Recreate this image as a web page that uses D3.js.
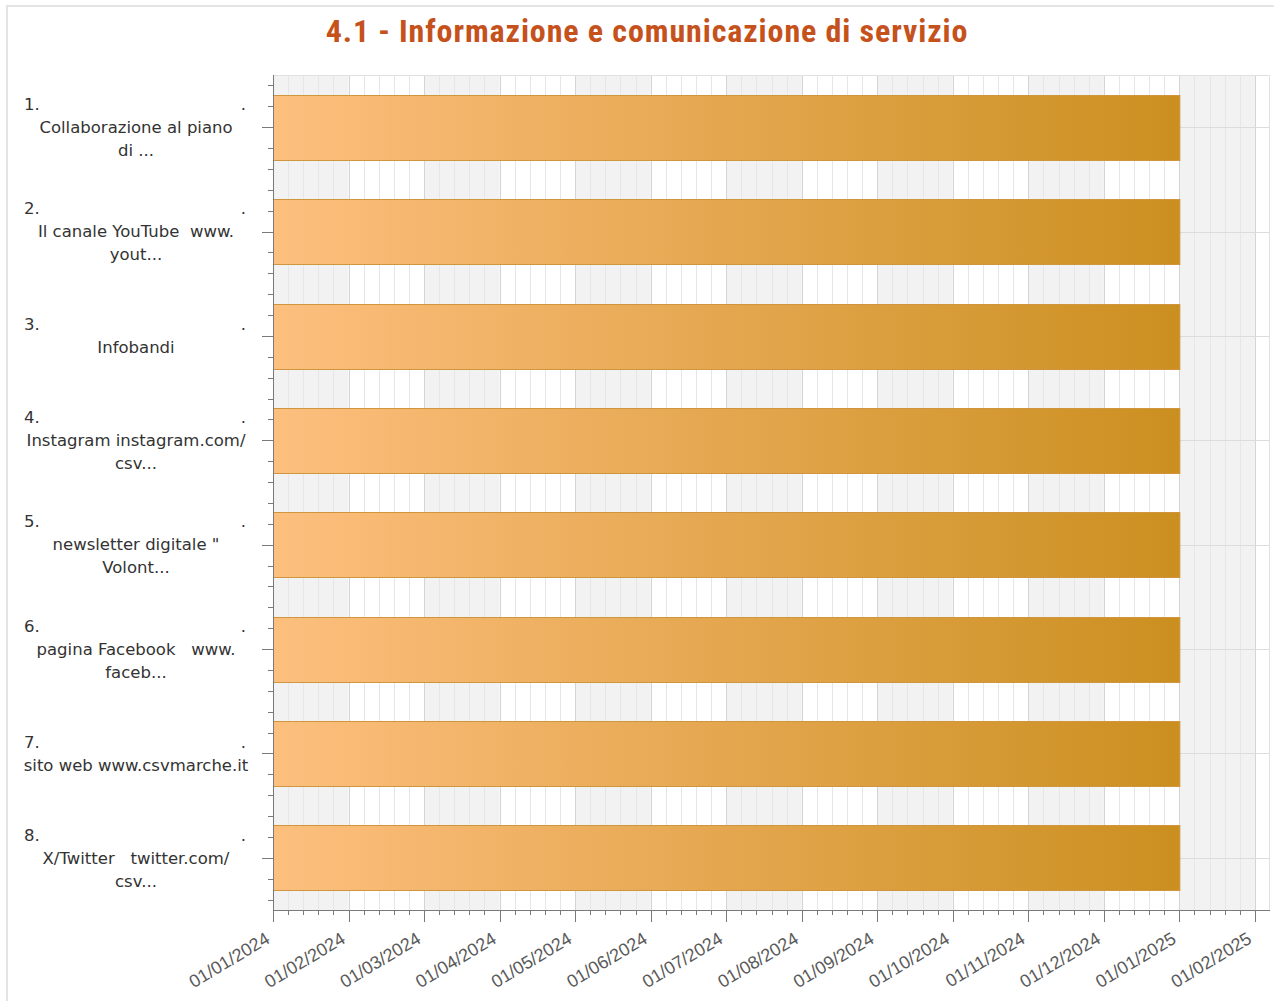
<!DOCTYPE html>
<html>
<head>
<meta charset="utf-8">
<script src="https://cdn.jsdelivr.net/npm/d3@7.9.0/dist/d3.min.js"></script>
<style>
  body { margin: 0; background: #fff; }
  svg { display: block; }
</style>
</head>
<body>
<svg id="chart" width="1274" height="1001"></svg>
<script>
// ---------- Data ----------
const chartTitle = "4.1 - Informazione e comunicazione di servizio";
const numbers = ["1.", "2.", "3.", "4.", "5.", "6.", "7.", "8."];
const categories = [
  ["Collaborazione al piano", "di ..."],
  ["Il canale YouTube  www.", "yout..."],
  ["Infobandi"],
  ["Instagram instagram.com/", "csv..."],
  ["newsletter digitale \"", "Volont..."],
  ["pagina Facebook   www.", "faceb..."],
  ["sito web www.csvmarche.it"],
  ["X/Twitter   twitter.com/", "csv..."]
];
const startDates = ["01/01/2024", "01/01/2024", "01/01/2024", "01/01/2024",
                    "01/01/2024", "01/01/2024", "01/01/2024", "01/01/2024"];
const endDates = ["01/01/2025", "01/01/2025", "01/01/2025", "01/01/2025",
                  "01/01/2025", "01/01/2025", "01/01/2025", "01/01/2025"];
const tickLabels = ["01/01/2024", "01/02/2024", "01/03/2024", "01/04/2024",
                    "01/05/2024", "01/06/2024", "01/07/2024", "01/08/2024",
                    "01/09/2024", "01/10/2024", "01/11/2024", "01/12/2024",
                    "01/01/2025", "01/02/2025"];

// months on this axis are drawn evenly spaced, so a date becomes a month index
function monthIndex(str) {
  const [d, m, y] = str.split("/").map(Number);
  const days = new Date(y, m, 0).getDate();
  return (y - 2024) * 12 + (m - 1) + (d - 1) / days;
}

// ---------- Layout ----------
const pLeft = 273, pRight = 1270, pTop = 75, pBottom = 910;
const svg = d3.select("#chart");

const x = d3.scaleLinear().domain([0, 13.2]).range([pLeft, pRight]);
const y = d3.scaleBand().domain(d3.range(categories.length)).range([pTop, pBottom]).padding(0);
const step = y.step();
const barH = step * 0.62;

// frame
svg.append("rect")
  .attr("x", 7).attr("y", 6).attr("width", 1300).attr("height", 1100)
  .attr("fill", "none").attr("stroke", "#e4e4e4").attr("stroke-width", 2);

// title
svg.append("text")
  .attr("x", 647).attr("y", 42)
  .attr("text-anchor", "middle")
  .attr("font-family", "'Liberation Sans Narrow', 'Roboto Condensed', Roboto, sans-serif")
  .attr("font-weight", "bold")
  .attr("font-size", 32)
  .attr("letter-spacing", 0.9)
  .attr("fill", "#c5521c")
  .text(chartTitle);

// ---------- Plot background ----------
const g = svg.append("g");
const months = d3.range(0, tickLabels.length);

g.selectAll("rect.band")
  .data(months.filter((m) => m % 2 === 0))
  .join("rect")
  .attr("x", (m) => x(m))
  .attr("y", pTop)
  .attr("width", (m) => Math.min(x(m + 1), pRight) - x(m))
  .attr("height", pBottom - pTop)
  .attr("fill", "#f2f2f2");

const minor = [];
months.forEach((m) => { for (let k = 1; k < 5; k++) if (m + k / 5 < 13.2) minor.push(m + k / 5); });

g.selectAll("line.vminor")
  .data(minor)
  .join("line")
  .attr("x1", (d) => Math.round(x(d)) + 0.5).attr("x2", (d) => Math.round(x(d)) + 0.5)
  .attr("y1", pTop).attr("y2", pBottom)
  .attr("stroke", "#e6e6e6");

g.selectAll("line.vmajor")
  .data(months.slice(1))
  .join("line")
  .attr("x1", (d) => Math.round(x(d)) + 0.5).attr("x2", (d) => Math.round(x(d)) + 0.5)
  .attr("y1", pTop).attr("y2", pBottom)
  .attr("stroke", "#d4d4d4");

g.selectAll("line.hgrid")
  .data(d3.range(categories.length))
  .join("line")
  .attr("x1", pLeft).attr("x2", pRight)
  .attr("y1", (i) => Math.round(y(i) + step / 2) + 0.5)
  .attr("y2", (i) => Math.round(y(i) + step / 2) + 0.5)
  .attr("stroke", "#dcdcdc");

// plot border top / right
g.append("path")
  .attr("d", `M${pLeft},${pTop + 0.5}H${pRight - 0.5}V${pBottom}`)
  .attr("fill", "none").attr("stroke", "#e0e0e0");

// ---------- Bars ----------
const grad = svg.append("defs").append("linearGradient")
  .attr("id", "barGrad")
  .attr("gradientUnits", "userSpaceOnUse")
  .attr("x1", x(0)).attr("x2", x(12)).attr("y1", 0).attr("y2", 0);
grad.append("stop").attr("offset", "0%").attr("stop-color", "#fdbf7e");
grad.append("stop").attr("offset", "100%").attr("stop-color", "#cb8f20");

svg.append("g").selectAll("rect")
  .data(d3.range(categories.length))
  .join("rect")
  .attr("x", (i) => x(monthIndex(startDates[i])) + 0.5)
  .attr("y", (i) => Math.round(y(i) + (step - barH) / 2) + 0.5)
  .attr("width", (i) => x(monthIndex(endDates[i])) - x(monthIndex(startDates[i])))
  .attr("height", Math.round(barH))
  .attr("fill", "url(#barGrad)")
  .attr("stroke", "#cf963e")
  .attr("stroke-width", 1);

// ---------- Axes ----------
const axisColor = "#7a7a7a";
const ax = svg.append("g");

// y ticks: five per category, the middle one longer
const yTicks = [];
d3.range(categories.length).forEach((i) => {
  for (let k = 0; k < 5; k++) yTicks.push({ v: y(i) + step * (0.1 + 0.2 * k), major: k === 2 });
});
ax.selectAll("line.yt")
  .data(yTicks)
  .join("line")
  .attr("x1", (d) => pLeft - (d.major ? 11 : 5)).attr("x2", pLeft)
  .attr("y1", (d) => Math.round(d.v) + 0.5).attr("y2", (d) => Math.round(d.v) + 0.5)
  .attr("stroke", axisColor);

// x ticks
ax.selectAll("line.xminor")
  .data(minor)
  .join("line")
  .attr("x1", (d) => Math.round(x(d)) + 0.5).attr("x2", (d) => Math.round(x(d)) + 0.5)
  .attr("y1", pBottom).attr("y2", pBottom + 5)
  .attr("stroke", axisColor);
ax.selectAll("line.xmajor")
  .data(months)
  .join("line")
  .attr("x1", (d) => Math.round(x(d)) + 0.5).attr("x2", (d) => Math.round(x(d)) + 0.5)
  .attr("y1", pBottom).attr("y2", pBottom + 12)
  .attr("stroke", axisColor);

ax.append("path")
  .attr("d", `M${pLeft + 0.5},${pTop}V${pBottom + 0.5}H${pRight}`)
  .attr("fill", "none").attr("stroke", axisColor);

// x labels
ax.selectAll("text.xl")
  .data(months)
  .join("text")
  .attr("transform", (d) => `translate(${x(d) - 2},${pBottom + 32}) rotate(-31)`)
  .attr("text-anchor", "end")
  .attr("font-family", "'Liberation Sans', Arial, sans-serif")
  .attr("font-size", 18)
  .attr("fill", "#5a5a5a")
  .text((d) => tickLabels[d]);

// y labels
const labelFont = "'DejaVu Sans', Verdana, sans-serif";
const lineH = 23;
d3.range(categories.length).forEach((i) => {
  const lines = categories[i];
  const n = lines.length + 1;
  const c = y(i) + step / 2;
  const y0 = c - ((n - 1) * lineH) / 2;
  const lg = ax.append("g")
    .attr("font-family", labelFont)
    .attr("font-size", 16.5)
    .attr("fill", "#333");
  lg.append("text").attr("x", 24).attr("y", y0).attr("dy", "0.35em").text(numbers[i]);
  lg.append("text").attr("x", 246).attr("y", y0).attr("dy", "0.35em")
    .attr("text-anchor", "end").text(".");
  lines.forEach((t, j) => {
    lg.append("text")
      .attr("x", 136).attr("y", y0 + (j + 1) * lineH).attr("dy", "0.35em")
      .attr("text-anchor", "middle")
      .attr("xml:space", "preserve")
      .style("white-space", "pre")
      .text(t);
  });
});
</script>
</body>
</html>
